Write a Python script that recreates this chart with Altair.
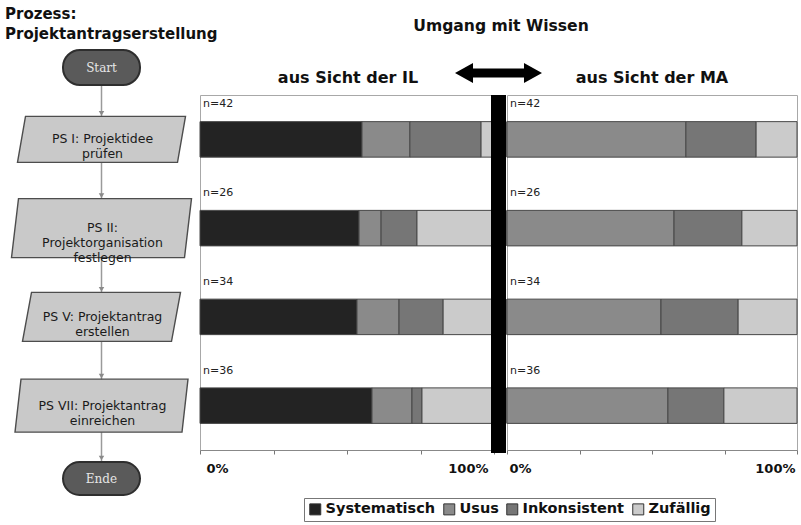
import altair as alt
import pandas as pd

# ---------------- data ----------------
steps = ["PS I", "PS II", "PS V", "PS VII"]
step_labels = [
    "PS I: Projektidee\nprüfen",
    "PS II:\nProjektorganisation\nfestlegen",
    "PS V: Projektantrag\nerstellen",
    "PS VII: Projektantrag\neinreichen",
]
n_values = [42, 26, 34, 36]
categories = ["Systematisch", "Usus", "Inkonsistent", "Zufällig"]

il_systematisch = [55.1, 54.1, 53.4, 58.5]
il_usus = [16.3, 7.5, 14.3, 13.6]
il_inkonsistent = [24.2, 12.2, 15.0, 3.4]
il_zufaellig = [4.4, 26.2, 17.3, 24.5]

ma_systematisch = [0, 0, 0, 0]
ma_usus = [61.7, 57.6, 53.1, 55.5]
ma_inkonsistent = [24.2, 23.4, 26.6, 19.3]
ma_zufaellig = [14.1, 19.0, 20.3, 25.2]

colors = ["#232323", "#8a8a8a", "#767676", "#cbcbcb"]


def panel_df(series):
    rows = []
    for ci, (cat, vals) in enumerate(zip(categories, series)):
        for step, v in zip(steps, vals):
            rows.append({"step": step, "category": cat, "value": v, "order": ci})
    return pd.DataFrame(rows)


df_il = panel_df([il_systematisch, il_usus, il_inkonsistent, il_zufaellig])
df_ma = panel_df([ma_systematisch, ma_usus, ma_inkonsistent, ma_zufaellig])
df_n = pd.DataFrame({"step": steps, "n": n_values})
df_flow = pd.DataFrame({"step": steps, "label": step_labels})
one = pd.DataFrame({"a": [0]})

FONT = "DejaVu Sans"
H = 355

y_enc = alt.Y(
    "step:N",
    scale=alt.Scale(domain=steps, paddingInner=0.6, paddingOuter=0.3),
    axis=None,
)

legend = alt.Legend(
    orient="none",
    legendX=299,
    legendY=403,
    direction="horizontal",
    title=None,
    symbolType="square",
    symbolSize=121,
    symbolStrokeColor="#333",
    symbolStrokeWidth=1,
    labelFontWeight="bold",
    labelFontSize=14.5,
    labelColor="#111",
    labelFont=FONT,
    labelOffset=3,
    columnPadding=5,
    padding=4,
    strokeColor="#777",
)


def bar_panel(df, flush_offset):
    bars = alt.Chart(df).mark_bar(stroke="#474747", strokeWidth=1).encode(
        x=alt.X(
            "value:Q",
            stack="zero",
            scale=alt.Scale(domain=[0, 100], nice=False),
            title=None,
            axis=alt.Axis(
                values=[0, 25, 50, 75, 100],
                labelExpr="datum.value == 0 ? '0%' : datum.value == 100 ? '100%' : ''",
                labelFlush=True,
                labelFlushOffset=flush_offset,
                labelFontWeight="bold",
                labelFontSize=13,
                labelColor="#111",
                labelPadding=8,
                tickSize=4,
                tickColor="#777",
                domainColor="#888",
                grid=False,
            ),
        ),
        y=y_enc,
        color=alt.Color(
            "category:N", scale=alt.Scale(domain=categories, range=colors), legend=legend
        ),
        order=alt.Order("order:Q"),
    )
    nlab = (
        alt.Chart(df_n)
        .transform_calculate(lab="'n=' + datum.n")
        .mark_text(align="left", baseline="middle", dy=-35, fontSize=11, color="#222")
        .encode(x=alt.value(3), y=y_enc, text="lab:N")
    )
    return bars, nlab


# ---------------- flowchart panel ----------------
K = 100.0


def para(W, s, h):
    x0, x1, y0, y1 = -W / 2, W / 2, -h / 2, h / 2
    pts = [(x0 + s, y0), (x1, y0), (x1 - s, y1), (x0, y1)]
    return "M " + " L ".join(f"{x / K:.4f} {y / K:.4f}" for x, y in pts) + " Z"


box_dims = {"PS I": (168, 8, 46), "PS II": (180, 7, 59), "PS V": (158, 9, 49), "PS VII": (173, 6, 53)}
box_paths = [para(*box_dims[s]) for s in steps]
FX = 96.5

connector = alt.Chart(one).mark_rule(color="#9a9a9a", strokeWidth=1.5).encode(
    x=alt.value(FX), y=alt.value(-10), y2=alt.value(367)
)
boxes = alt.Chart(df_flow).mark_point(
    filled=True, fill="#c9c9c9", stroke="#4d4d4d", strokeWidth=1.4, opacity=1, size=(2 * K) ** 2
).encode(
    x=alt.value(FX),
    y=y_enc,
    shape=alt.Shape("step:N", scale=alt.Scale(domain=steps, range=box_paths), legend=None),
)
flow_text = alt.Chart(df_flow).mark_text(
    fontSize=12.5, lineHeight=15, color="#1a1a1a", baseline="middle", align="center", lineBreak="\n"
).encode(x=alt.value(FX + 1), y=y_enc, text="label:N")

arrow_layers = []
for s in steps:
    off = -(box_dims[s][2] / 2 + 3)
    arrow_layers.append(
        alt.Chart(df_flow)
        .transform_filter(alt.datum.step == s)
        .mark_point(shape="triangle-down", size=30, filled=True, color="#8a8a8a", opacity=1, yOffset=off)
        .encode(x=alt.value(FX), y=y_enc)
    )
arrow_end = alt.Chart(one).mark_point(shape="triangle-down", size=30, filled=True, color="#8a8a8a", opacity=1).encode(
    x=alt.value(FX), y=alt.value(363)
)

start_rect = alt.Chart(one).mark_rect(cornerRadius=17, fill="#5a5a5a", stroke="#2e2e2e", strokeWidth=2).encode(
    x=alt.value(58), x2=alt.value(135), y=alt.value(-45), y2=alt.value(-10)
)
start_txt = alt.Chart(one).mark_text(text="Start", font="DejaVu Serif", fontSize=12, color="#e6e6e6").encode(
    x=alt.value(FX), y=alt.value(-27.5)
)
end_rect = alt.Chart(one).mark_rect(cornerRadius=17, fill="#5a5a5a", stroke="#2e2e2e", strokeWidth=2).encode(
    x=alt.value(58), x2=alt.value(135), y=alt.value(367), y2=alt.value(400)
)
end_txt = alt.Chart(one).mark_text(text="Ende", font="DejaVu Serif", fontSize=12, color="#e6e6e6").encode(
    x=alt.value(FX), y=alt.value(383.5)
)
proc_title = alt.Chart(one).mark_text(
    text="Prozess:\nProjektantragserstellung", lineBreak="\n", fontSize=15, fontWeight="bold",
    align="left", baseline="top", lineHeight=20, color="#111",
).encode(x=alt.value(0), y=alt.value(-88))

flow = alt.layer(
    connector, *arrow_layers, arrow_end, boxes, flow_text, start_rect, start_txt, end_rect, end_txt, proc_title
).properties(width=182, height=H, view=alt.ViewBackground(stroke=None))

# ---------------- bar panels ----------------
bars_il, n_il = bar_panel(df_il, -6)
bars_ma, n_ma = bar_panel(df_ma, -2)

divider = alt.Chart(one).mark_rect(color="#000000").encode(
    x=alt.value(291), x2=alt.value(306), y=alt.value(0), y2=alt.value(358)
)
ARW = 43.5
arrow_path = (
    "M -1 0 L -0.586 -0.23 L -0.586 -0.103 L 0.586 -0.103 L 0.586 -0.23 L 1 0 "
    "L 0.586 0.23 L 0.586 0.103 L -0.586 0.103 L -0.586 0.23 Z"
)
dbl_arrow = alt.Chart(one).mark_point(
    shape=arrow_path, size=(2 * ARW) ** 2, filled=True, color="#000000", opacity=1
).encode(x=alt.value(298.5), y=alt.value(-22))


def label(txt, x, y, size):
    return alt.Chart(one).mark_text(
        text=txt, fontSize=size, fontWeight="bold", color="#111", baseline="middle", align="center"
    ).encode(x=alt.value(x), y=alt.value(y))


umgang = label("Umgang mit Wissen", 301, -69, 15.6)
il_title = label("aus Sicht der IL", 148, -17, 16)
ma_title = label("aus Sicht der MA", 145, -17, 16)

left = alt.layer(bars_il, n_il, divider, dbl_arrow, umgang, il_title).properties(width=294, height=H)
right = alt.layer(bars_ma, n_ma, ma_title).properties(width=290, height=H)

chart = (
    alt.hconcat(flow, left, right, spacing=13, bounds="flush")
    .properties(padding={"left": 5, "top": 7, "right": 3, "bottom": 2})
    .configure(font=FONT)
    .configure_view(stroke="#a8a8a8", strokeWidth=1)
)

chart.save("out.html", embed_options={"renderer": "svg", "actions": False})
